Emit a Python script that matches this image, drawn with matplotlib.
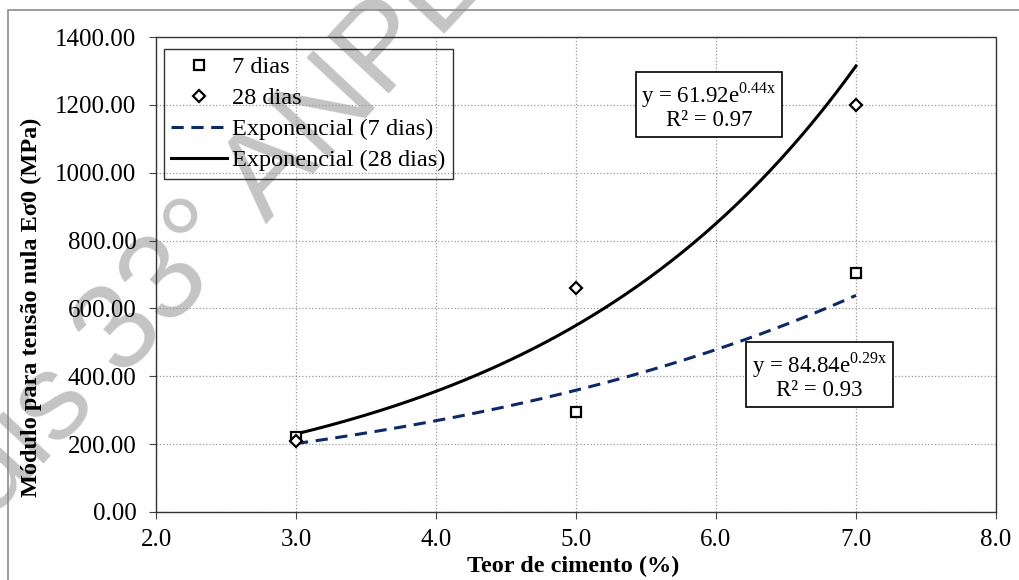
import numpy as np
import matplotlib
matplotlib.use("Agg")
import matplotlib.pyplot as plt
from matplotlib.patches import Rectangle

plt.rcParams['font.family'] = ['Liberation Serif', 'DejaVu Serif']
plt.rcParams['mathtext.fontset'] = 'custom'
plt.rcParams['mathtext.rm'] = 'Liberation Serif'

# dados
teor = [3.0, 5.0, 7.0]
e_7dias = [222, 296, 703]
e_28dias = [210, 660, 1200]

eq_7 = "y = 84.84e$^{\\mathrm{0.29x}}$\nR² = 0.93"
eq_28 = "y = 61.92e$^{\\mathrm{0.44x}}$\nR² = 0.97"

fig = plt.figure(figsize=(10.19, 5.8), dpi=100)
ax = fig.add_axes([156 / 1019, 1 - 512 / 580, (996 - 156) / 1019, (512 - 37) / 580])
ax.patch.set_visible(False)

# moldura externa
fig.patches.append(Rectangle((8 / 1019, -0.1), 1.2, (580 - 10) / 580 + 0.1,
                             transform=fig.transFigure, fill=False,
                             edgecolor='#8c8c8c', linewidth=1.2))

# ajuste exponencial (como a linha de tendencia do Excel)
xs = np.linspace(3.0, 7.0, 200)
b7, a7 = np.polyfit(teor, np.log(e_7dias), 1)
b28, a28 = np.polyfit(teor, np.log(e_28dias), 1)

ax.plot(teor, e_7dias, 's', ms=7, mfc='white', mec='black', mew=1.6, label='7 dias', zorder=5)
ax.plot(teor, e_28dias, 'D', ms=6, mfc='white', mec='black', mew=1.6, label='28 dias', zorder=5)
ax.plot(xs, np.exp(a7 + b7 * xs), '--', color='#0d2a66', lw=2.2, dashes=(4, 2.5),
        label='Exponencial (7 dias)')
ax.plot(xs, np.exp(a28 + b28 * xs), '-', color='black', lw=2.2, label='Exponencial (28 dias)')

ax.set_xlim(2.0, 8.0)
ax.set_ylim(0, 1400)
ax.set_xticks(np.arange(2.0, 8.01, 1.0))
ax.set_yticks(np.arange(0, 1401, 200))
ax.set_xticklabels(["%.1f" % v for v in np.arange(2.0, 8.01, 1.0)])
ax.set_yticklabels(["%.2f" % v for v in np.arange(0, 1401, 200)])
ax.tick_params(labelsize=18, direction='out', length=5, color='#444444')
ax.tick_params(axis='y', pad=9)
ax.tick_params(axis='x', pad=7)
ax.grid(True, linestyle=':', color='#999999', linewidth=0.9)
for s in ax.spines.values():
    s.set_linestyle((0, (2, 1)))
    s.set_color('#333333')
    s.set_linewidth(1.0)

ax.set_xlabel('Teor de cimento (%)', fontsize=17.5, fontweight='bold')
ax.set_ylabel('Módulo para tensão nula Eσ0 (MPa)', fontsize=17.5, fontweight='bold')
ax.xaxis.set_label_coords(0.497, -0.093)
ax.yaxis.set_label_coords(-0.136, 0.43)

leg = ax.legend(loc='upper left', bbox_to_anchor=(8 / 840, 1 - 12 / 475), fontsize=17.5,
                frameon=True, fancybox=False, edgecolor='black', handlelength=2.3,
                handletextpad=0.2, borderpad=0.3, labelspacing=0.37, borderaxespad=0.0,
                prop={'family': 'Liberation Serif', 'size': 17.5})
leg.get_frame().set_linewidth(1.0)
leg.get_frame().set_facecolor('none')

box = dict(boxstyle='square,pad=0.25', fc='white', ec='black', lw=1.2)
ax.text(5.95, 1197, eq_28, ha='center', va='center', fontsize=16.5, bbox=box,
        multialignment='center', linespacing=1.0, zorder=6)
ax.text(6.74, 402, eq_7, ha='center', va='center', fontsize=16.5, bbox=box,
        multialignment='center', linespacing=1.0, zorder=6)

# marca d'agua (por baixo do grafico)
fig.text(0.19, 0.56, 'Anais 33° ANPET', fontsize=88, color='#c4c4c4',
         rotation=47, ha='center', va='center', family='Liberation Sans', zorder=-1)

fig.savefig('out.png', dpi=100)
